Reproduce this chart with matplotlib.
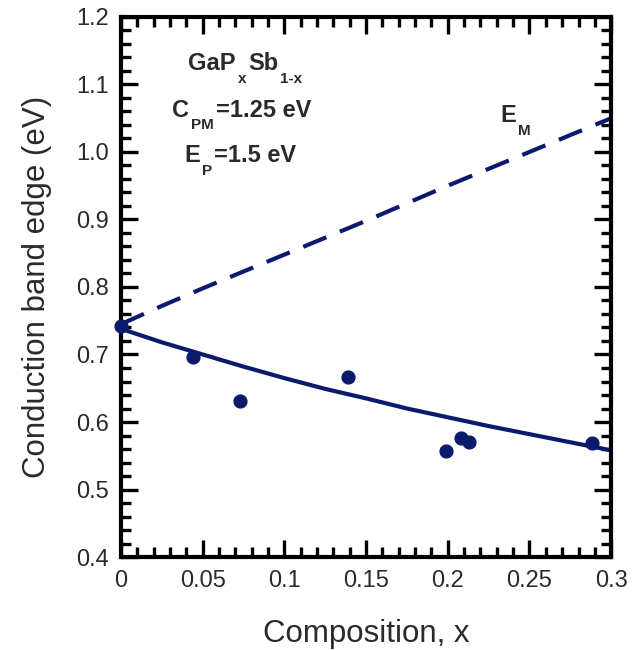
import numpy as np
import matplotlib.pyplot as plt
from matplotlib.ticker import MultipleLocator
from matplotlib.transforms import offset_copy

plt.rcParams['font.family'] = ['Liberation Sans', 'DejaVu Sans']

# measured points
x_data = [0.0, 0.044, 0.073, 0.139, 0.199, 0.208, 0.213, 0.288]
y_data = [0.742, 0.696, 0.631, 0.667, 0.557, 0.576, 0.570, 0.569]

# model curves
x_fit = [0.0, 0.025, 0.05, 0.075, 0.1, 0.125, 0.15, 0.175, 0.2, 0.225, 0.25, 0.275, 0.3]
y_fit = [0.738, 0.718, 0.700, 0.682, 0.665, 0.649, 0.635, 0.620, 0.607, 0.594, 0.582, 0.570, 0.558]
y_em = [0.745, 0.772, 0.798, 0.823, 0.848, 0.873, 0.898, 0.924, 0.950, 0.975, 1.000, 1.025, 1.050]

x_ticks = [0, 0.05, 0.1, 0.15, 0.2, 0.25, 0.3]
x_ticklabels = ['0', '0.05', '0.1', '0.15', '0.2', '0.25', '0.3']
y_ticks = [0.4, 0.5, 0.6, 0.7, 0.8, 0.9, 1.0, 1.1, 1.2]
y_ticklabels = ['0.4', '0.5', '0.6', '0.7', '0.8', '0.9', '1.0', '1.1', '1.2']

col = '#0c1a6e'
txt = '#2a2a2a'

fig = plt.figure(figsize=(6.34, 6.5), dpi=100)
ax = fig.add_axes([0.191, 0.143, 0.773, 0.831])

ax.plot(x_fit, y_em, color=col, lw=3, dashes=(6, 3.5))
ax.plot(x_fit, y_fit, color=col, lw=3)
ax.scatter(x_data, y_data, s=85, color=col, zorder=3, clip_on=False)

ax.set_xlim(0, 0.3)
ax.set_ylim(0.4, 1.2)
ax.set_xticks(x_ticks)
ax.set_xticklabels(x_ticklabels)
ax.set_yticks(y_ticks)
ax.set_yticklabels(y_ticklabels)
ax.xaxis.set_minor_locator(MultipleLocator(0.01))
ax.yaxis.set_minor_locator(MultipleLocator(0.02))
ax.tick_params(which='both', direction='in', top=True, right=True, width=2.4, labelsize=17,
               color='black', labelcolor=txt)
ax.tick_params(which='major', length=12, pad=9)
ax.tick_params(which='minor', length=7)
for s in ax.spines.values():
    s.set_linewidth(3)

ax.set_xlabel('Composition, x', fontsize=22.5, labelpad=20, color=txt)
ax.set_ylabel('Conduction band edge (eV)', fontsize=22.5, labelpad=17, color=txt)


def sub_text(x, y, parts, size=17, sub_size=11, drop=9):
    '''
        Draws bold text pieces one after another, dropping the subscript ones
    '''
    renderer = fig.canvas.get_renderer()
    dx = 0
    for s, sub in parts:
        tr = offset_copy(ax.transData, fig, x=dx, y=-drop if sub else 0, units='points')
        t = ax.text(x, y, s, transform=tr, fontsize=sub_size if sub else size,
                    fontweight='bold', color=txt, ha='left', va='baseline')
        dx += t.get_window_extent(renderer).width * 72 / fig.dpi + 1.5


sub_text(0.041, 1.121, [('GaP', False), ('x', True), ('Sb', False), ('1-x', True)])
sub_text(0.031, 1.052, [('C', False), ('PM', True), ('=1.25 eV', False)])
sub_text(0.0386, 0.985, [('E', False), ('P', True), ('=1.5 eV', False)])
sub_text(0.232, 1.044, [('E', False), ('M', True)])

fig.savefig('out.png', dpi=100)
